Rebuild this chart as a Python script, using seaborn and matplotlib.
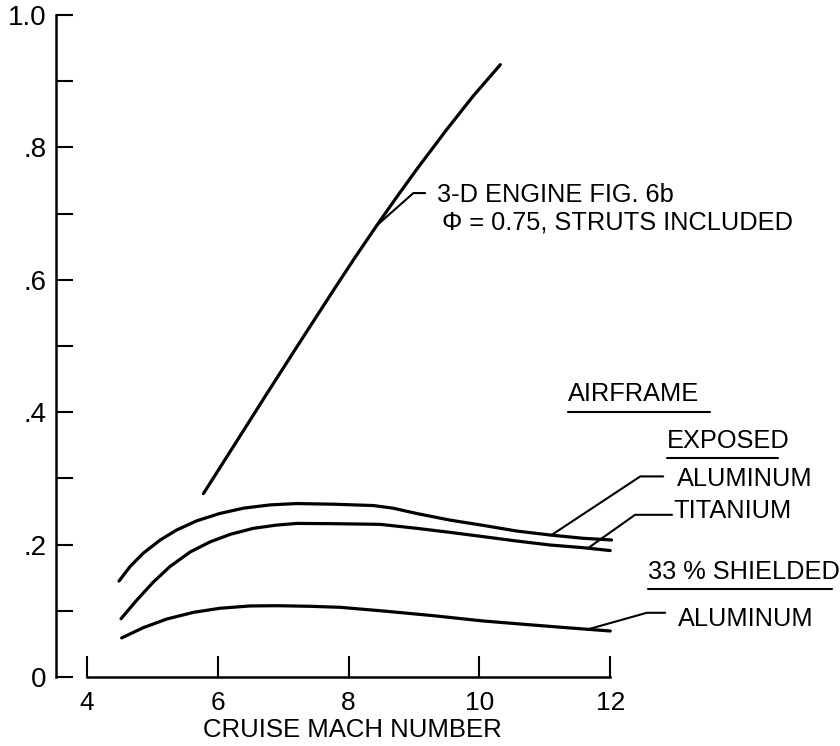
import numpy as np
import pandas as pd
import matplotlib
matplotlib.use("Agg")
import matplotlib.pyplot as plt
import matplotlib.transforms as mtransforms
import seaborn as sns

# 読み取った値 (Mach number, 縦軸の値)
mach_engine = [5.78, 6.25, 6.75, 7.25, 7.8, 8.1, 8.43, 8.75, 9.05, 9.5, 9.9, 10.32]
val_engine = [0.277, 0.350, 0.428, 0.505, 0.589, 0.634, 0.682, 0.727, 0.768, 0.827, 0.877, 0.925]

mach_exp_al = [4.49, 4.66, 4.86, 5.12, 5.37, 5.68, 6.03, 6.39, 6.8, 7.21, 7.77,
               8.38, 8.68, 9.04, 9.55, 10.06, 10.57, 11.08, 11.59, 12.02]
val_exp_al = [0.145, 0.167, 0.187, 0.207, 0.222, 0.236, 0.247, 0.255, 0.260, 0.262, 0.261,
              0.259, 0.255, 0.247, 0.237, 0.229, 0.2205, 0.2145, 0.2095, 0.207]

mach_exp_ti = [4.52, 4.76, 5.01, 5.27, 5.58, 5.88, 6.19, 6.54, 6.9, 7.21, 7.77,
               8.48, 9.04, 9.55, 10.06, 10.57, 11.08, 11.59, 12.0]
val_exp_ti = [0.088, 0.116, 0.143, 0.167, 0.189, 0.204, 0.2155, 0.2245, 0.2295, 0.232, 0.2316,
              0.2306, 0.2246, 0.2185, 0.212, 0.2054, 0.1994, 0.1953, 0.191]

mach_sh_al = [4.53, 4.86, 5.22, 5.63, 6.03, 6.49, 6.9, 7.41, 7.87, 8.53, 9.3,
              10.06, 10.82, 11.33, 12.0]
val_sh_al = [0.059, 0.0745, 0.0876, 0.0977, 0.1038, 0.1073, 0.1077, 0.1068, 0.1053, 0.0997, 0.0926,
             0.0846, 0.0785, 0.0745, 0.0695]

x_ticks = [4, 6, 8, 10, 12]
y_ticks = [0.0, 0.1, 0.2, 0.3, 0.4, 0.5, 0.6, 0.7, 0.8, 0.9, 1.0]
y_tick_labels = ["0", "", ".2", "", ".4", "", ".6", "", ".8", "", "1.0"]

curves = {
    "engine": (mach_engine, val_engine),
    "exp_al": (mach_exp_al, val_exp_al),
    "exp_ti": (mach_exp_ti, val_exp_ti),
    "sh_al": (mach_sh_al, val_sh_al),
}
df = pd.concat(
    [pd.DataFrame({"mach": m, "value": v, "curve": k}) for k, (m, v) in curves.items()],
    ignore_index=True,
)

sns.set_theme(style="white")
plt.rcParams["font.family"] = ["Liberation Sans", "DejaVu Sans"]

fig = plt.figure(figsize=(8.4, 7.46), dpi=100)
ax = fig.add_axes([56 / 840, 69 / 746, 779 / 840, 662 / 746])

sns.lineplot(
    data=df, x="mach", y="value", hue="curve", units="curve", estimator=None,
    palette=["black"] * 4, linewidth=2.3, legend=False, sort=True, ax=ax,
)

ax.set_xlim(3.526, 15.437)
ax.set_ylim(0, 1.0)

# 軸の見た目
for s in ["top", "right"]:
    ax.spines[s].set_visible(False)
for s in ["left", "bottom"]:
    ax.spines[s].set_color("black")
    ax.spines[s].set_linewidth(1.8)
ax.spines["left"].set_bounds(0, 1.0)
ax.spines["bottom"].set_bounds(4, 12)

ax.set_xticks(x_ticks)
ax.set_xticklabels([str(t) for t in x_ticks], fontsize=19)
ax.set_yticks(y_ticks)
ax.set_yticklabels(y_tick_labels, fontsize=20)
ax.tick_params(axis="x", bottom=True, direction="in", length=15, width=1.5, pad=10, colors="black")
ax.tick_params(axis="y", left=True, direction="in", length=12, width=1.5, pad=7, colors="black")

ax.set_ylabel("")
ax.set_xlabel("CRUISE MACH NUMBER", fontsize=18.5, color="black")
ax.xaxis.set_label_coords(
    8.05, -0.062, transform=mtransforms.blended_transform_factory(ax.transData, ax.transAxes)
)

lk = dict(color="black", linewidth=1.5, clip_on=False)
tk = dict(fontsize=18.3, color="black", va="center", ha="left")

# 3-D engine の注記
xa = 8.43
ya = np.interp(xa, mach_engine, val_engine)
ax.plot([xa, 8.99, 9.17], [ya, 0.731, 0.731], **lk)
ax.text(9.35, 0.728, "3-D ENGINE FIG. 6b", **tk)
ax.text(9.43, 0.686, "Φ = 0.75, STRUTS INCLUDED", **tk)

# AIRFRAME の見出し
ax.text(11.355, 0.428, "AIRFRAME", **tk)
ax.plot([11.355, 13.53], [0.400, 0.400], **lk)
ax.text(12.87, 0.357, "EXPOSED", **tk)
ax.plot([12.87, 14.57], [0.331, 0.331], **lk)

xa = 11.1
ya = np.interp(xa, mach_exp_al, val_exp_al)
ax.plot([xa, 12.46, 12.81], [ya, 0.303, 0.303], **lk)
ax.text(13.02, 0.299, "ALUMINUM", **tk)

xa = 11.66
ya = np.interp(xa, mach_exp_ti, val_exp_ti)
ax.plot([xa, 12.38, 12.945], [ya, 0.245, 0.245], **lk)
ax.text(12.96, 0.250, "TITANIUM", **tk)

ax.text(12.58, 0.159, "33 % SHIELDED", **tk)
ax.plot([12.58, 15.39], [0.133, 0.133], **lk)

xa = 11.66
ya = np.interp(xa, mach_sh_al, val_sh_al)
ax.plot([xa, 12.56, 12.84], [ya, 0.097, 0.097], **lk)
ax.text(13.04, 0.088, "ALUMINUM", **tk)

fig.savefig("out.png", dpi=100)
